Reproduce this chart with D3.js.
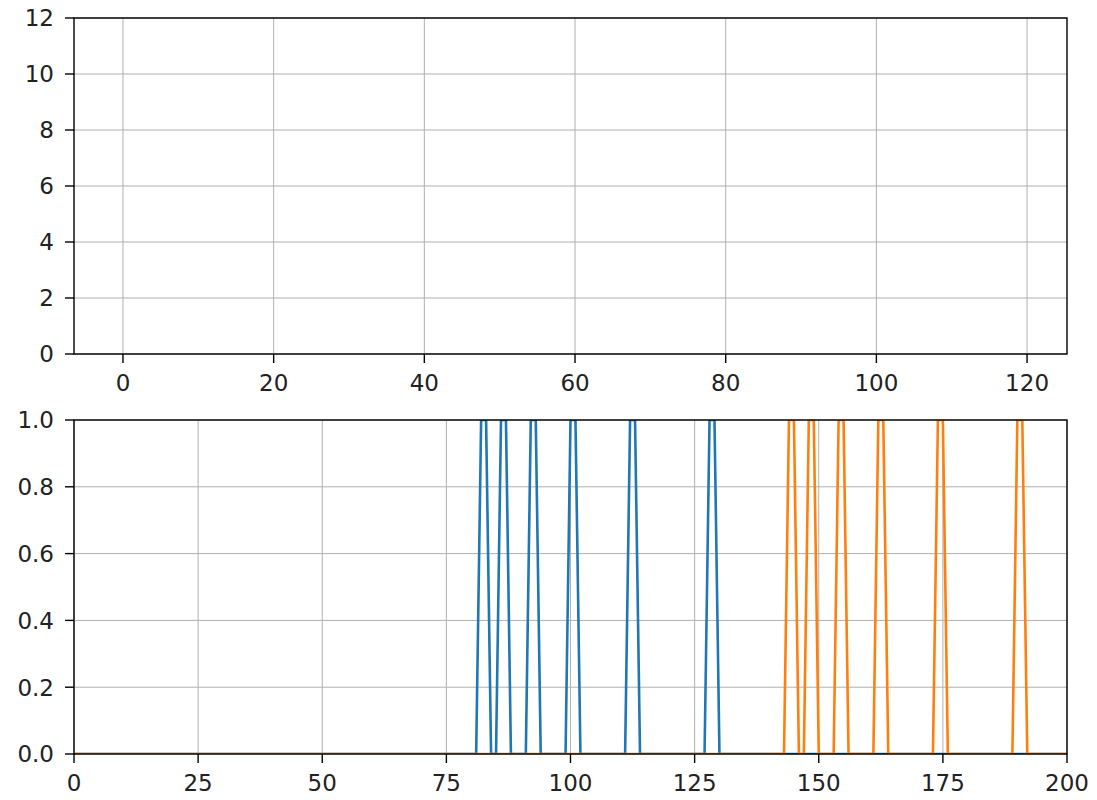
<!DOCTYPE html>
<html>
<head>
<meta charset="utf-8">
<script src="https://cdn.jsdelivr.net/npm/d3@7"></script>
<style>
  body { margin: 0; background: #fff; }
  svg { display: block; }
  text { font-family: "DejaVu Sans", sans-serif; fill: #222; }
</style>
</head>
<body>
<div id="chart"></div>
<script>
// top panel ticks (empty axes)
const topXTicks = [0, 20, 40, 60, 80, 100, 120];
const topYTicks = [0, 2, 4, 6, 8, 10, 12];
const topXDomain = [-6.5, 125.3];
const topYDomain = [0, 12];

// bottom panel
const botXTicks = [0, 25, 50, 75, 100, 125, 150, 175, 200];
const botYTicks = [0, 0.2, 0.4, 0.6, 0.8, 1.0];
const botXDomain = [0, 200];
const botYDomain = [0, 1];

// sample positions and the samples that are high (1) in each series, all others 0
const samples = d3.range(0, 201);
const blueHigh = [82, 83, 86, 87, 92, 93, 100, 101, 112, 113, 128, 129];
const orangeHigh = [144, 145, 148, 149, 154, 155, 162, 163, 174, 175, 190, 191];

const blueSeries = samples.map(x => ({ x: x, y: blueHigh.includes(x) ? 1 : 0 }));
const orangeSeries = samples.map(x => ({ x: x, y: orangeHigh.includes(x) ? 1 : 0 }));

const W = 1097, H = 800;
const FS = 23;

const svg = d3.select("#chart").append("svg")
	.attr("width", W)
	.attr("height", H);

function drawPanel(box, xDomain, yDomain, xTicks, yTicks, yFmt, series, id) {
	const x = d3.scaleLinear().domain(xDomain).range([box.left, box.right]);
	const y = d3.scaleLinear().domain(yDomain).range([box.bottom, box.top]);
	const g = svg.append("g");

	// grid
	g.append("g").selectAll("line").data(xTicks).join("line")
		.attr("x1", d => x(d)).attr("x2", d => x(d))
		.attr("y1", box.top).attr("y2", box.bottom)
		.attr("stroke", "#b0b0b0").attr("stroke-width", 1);
	g.append("g").selectAll("line").data(yTicks).join("line")
		.attr("x1", box.left).attr("x2", box.right)
		.attr("y1", d => y(d)).attr("y2", d => y(d))
		.attr("stroke", "#b0b0b0").attr("stroke-width", 1);

	// data lines, clipped to axes
	svg.append("clipPath").attr("id", id)
		.append("rect")
		.attr("x", box.left).attr("y", box.top)
		.attr("width", box.right - box.left).attr("height", box.bottom - box.top);

	const line = d3.line().x(d => x(d.x)).y(d => y(d.y));
	series.forEach(s => {
		g.append("path")
			.attr("clip-path", `url(#${id})`)
			.attr("d", line(s.data))
			.attr("fill", "none")
			.attr("stroke", s.color)
			.attr("stroke-width", 2.6)
			.attr("stroke-linejoin", "round");
	});

	// spines
	g.append("rect")
		.attr("x", box.left).attr("y", box.top)
		.attr("width", box.right - box.left).attr("height", box.bottom - box.top)
		.attr("fill", "none").attr("stroke", "#000").attr("stroke-width", 1.4);

	// x axis ticks + labels
	const xa = g.append("g").selectAll("g").data(xTicks).join("g");
	xa.append("line")
		.attr("x1", d => x(d)).attr("x2", d => x(d))
		.attr("y1", box.bottom).attr("y2", box.bottom + 9)
		.attr("stroke", "#000").attr("stroke-width", 1.4);
	xa.append("text")
		.attr("x", d => x(d)).attr("y", box.bottom + 37)
		.attr("text-anchor", "middle")
		.style("font-size", FS + "px")
		.text(d => d);

	// y axis ticks + labels
	const ya = g.append("g").selectAll("g").data(yTicks).join("g");
	ya.append("line")
		.attr("x1", box.left - 9).attr("x2", box.left)
		.attr("y1", d => y(d)).attr("y2", d => y(d))
		.attr("stroke", "#000").attr("stroke-width", 1.4);
	ya.append("text")
		.attr("x", box.left - 20).attr("y", d => y(d) + 8.4)
		.attr("text-anchor", "end")
		.style("font-size", FS + "px")
		.text(yFmt);
}

drawPanel({ left: 74, right: 1067, top: 18, bottom: 354 },
	topXDomain, topYDomain, topXTicks, topYTicks, d => d, [], "clipTop");

drawPanel({ left: 74, right: 1067, top: 420, bottom: 754 },
	botXDomain, botYDomain, botXTicks, botYTicks, d3.format(".1f"),
	[{ data: blueSeries, color: "#1f77b4" }, { data: orangeSeries, color: "#ff7f0e" }],
	"clipBot");
</script>
</body>
</html>
